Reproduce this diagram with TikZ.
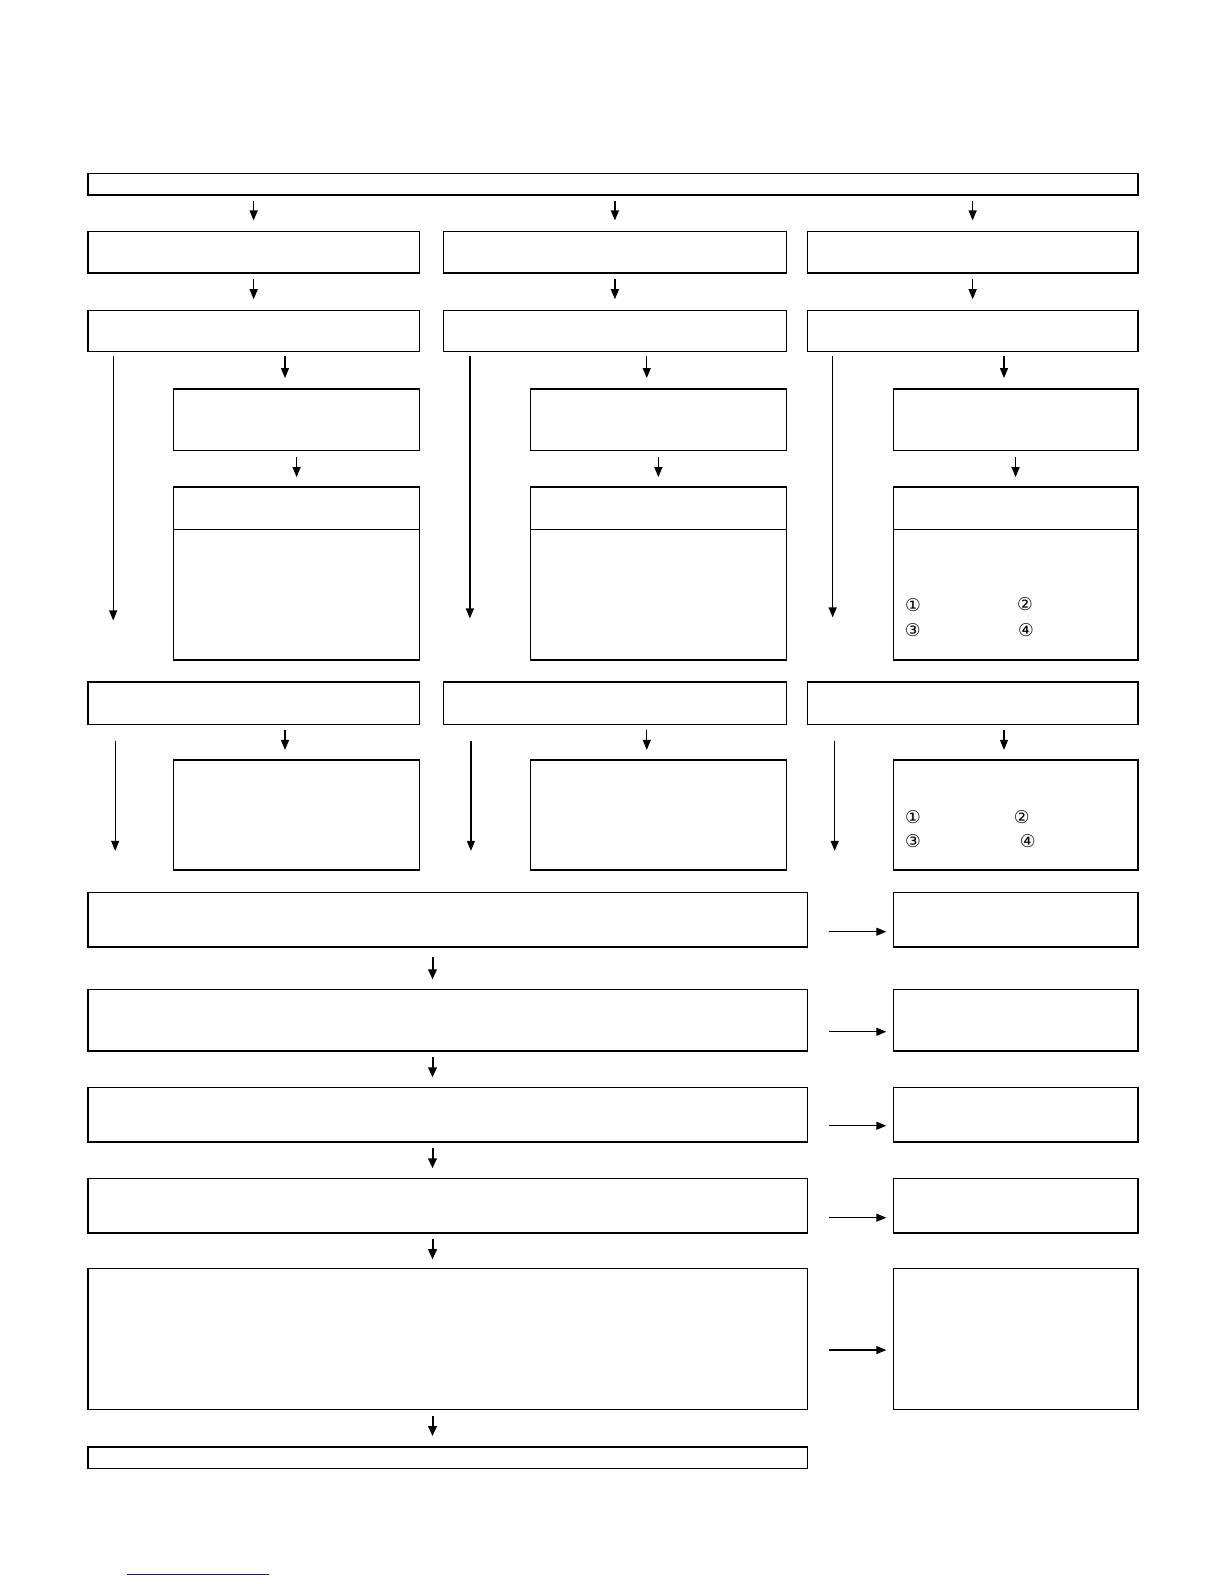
\documentclass[tikz,border=0pt]{standalone}
\usepackage{fontspec}
\newfontfamily\symfont{DejaVu Sans}
\usetikzlibrary{arrows.meta}
\definecolor{navyline}{RGB}{20,20,140}
\begin{document}
\begin{tikzpicture}[x=0.50525pt,y=-0.50525pt,
  box/.style={draw, line width=0.68pt, inner sep=0pt, outer sep=0pt},
  arr/.style={line width=0.6pt, -{Triangle[length=5pt,width=4pt]}},
  arrb/.style={line width=1pt, -{Triangle[length=5pt,width=4.3pt]}},
  num/.style={font=\symfont\fontsize{8.8}{9}\selectfont, inner sep=0pt}]
\useasboundingbox (0,0) rectangle (1211.3,1567.5);
\newcommand\mkbox[5]{\node[box, minimum width={(#4-#2)*0.50525pt}, minimum height={(#5-#3)*0.50525pt}] (#1) at ({(#2+#4)/2},{(#3+#5)/2}) {};}
% top
\mkbox{T}{87}{172}{1126}{193}
% row 1, 2
\mkbox{A1}{87}{229}{415}{270}
\mkbox{B1}{439}{229}{778}{270}
\mkbox{C1}{799}{229}{1126}{270}
\mkbox{A2}{87}{307}{415}{348}
\mkbox{B2}{439}{307}{778}{348}
\mkbox{C2}{799}{307}{1126}{348}
% row 3, 4
\mkbox{A3}{172}{385}{415}{446}
\mkbox{B3}{525}{385}{778}{446}
\mkbox{C3}{884}{385}{1126}{446}
\mkbox{A4}{172}{482}{415}{653}
\mkbox{B4}{525}{482}{778}{653}
\mkbox{C4}{884}{482}{1126}{653}
\foreach \b in {A4,B4,C4}{\draw[line width=0.68pt] (\b.west |- 0,524) -- (\b.east |- 0,524);}
% row 5, 6
\mkbox{A5}{87}{675}{415}{717}
\mkbox{B5}{439}{675}{778}{717}
\mkbox{C5}{799}{675}{1126}{717}
\mkbox{A6}{172}{752}{415}{861}
\mkbox{B6}{525}{752}{778}{861}
\mkbox{C6}{884}{752}{1126}{861}
% wide boxes
\mkbox{W1}{87}{883}{799}{937}
\mkbox{W2}{87}{979}{799}{1040}
\mkbox{W3}{87}{1076}{799}{1130}
\mkbox{W4}{87}{1166}{799}{1220}
\mkbox{W5}{87}{1255}{799}{1395}
\mkbox{W6}{87}{1432}{799}{1453}
\mkbox{S1}{884}{883}{1126}{937}
\mkbox{S2}{884}{979}{1126}{1040}
\mkbox{S3}{884}{1076}{1126}{1130}
\mkbox{S4}{884}{1166}{1126}{1220}
\mkbox{S5}{884}{1255}{1126}{1395}
% circled numbers
\node[num] (c41) at (903.6,599.2) {①};
\node[num] (c42) at (1014.4,598.2) {②};
\node[num] (c43) at (903.2,624) {③};
\node[num] (c44) at (1015.3,623.5) {④};
\node[num] (c61) at (903.5,809) {①};
\node[num] (c62) at (1011,809) {②};
\node[num] (c63) at (903.5,832.5) {③};
\node[num] (c64) at (1017,832.5) {④};
% arrows top -> row1 -> row2 -> row3 -> row4, row5 -> row6
\foreach \c in {A,B,C}{
  \draw[arr, shorten <=3pt, shorten >=5.5pt] (T.south -| \c1.north) -- (\c1.north);
  \draw[arr, shorten <=3pt, shorten >=5.5pt] (\c1.south) -- (\c2.north -| \c1.south);
  \coordinate (\c3in) at ([xshift=-5.8pt]\c3.north);
  \draw[arr, shorten <=2pt, shorten >=5.5pt] (\c2.south -| \c3in) -- (\c3in);
  \draw[arr, shorten <=3pt, shorten >=5pt] (\c3.south) -- (\c4.north);
  \coordinate (\c6in) at ([xshift=-5.8pt]\c6.north);
  \draw[arr, shorten <=2.5pt, shorten >=5pt] (\c5.south -| \c6in) -- (\c6in);
}
% long bypass arrows
\coordinate (lA) at (112,614);
\coordinate (lB) at (465,612);
\coordinate (lC) at (824,611);
\coordinate (mA) at (114,842);
\coordinate (mB) at (466,842);
\coordinate (mC) at (826,842);
\foreach \c in {A,B,C}{
  \draw[arr, shorten <=2pt] (\c2.south -| l\c) -- (l\c);
  \draw[arr, shorten <=8pt] (\c5.south -| m\c) -- (m\c);
}
% wide column arrows
\coordinate (wx) at (428,0);
\draw[arrb, shorten <=5pt, shorten >=5pt] (W1.south -| wx) -- (W2.north -| wx);
\draw[arrb, shorten <=3pt, shorten >=5pt] (W2.south -| wx) -- (W3.north -| wx);
\draw[arrb, shorten <=3pt, shorten >=5pt] (W3.south -| wx) -- (W4.north -| wx);
\draw[arrb, shorten <=3pt, shorten >=4.5pt] (W4.south -| wx) -- (W5.north -| wx);
\draw[arrb, shorten <=3pt, shorten >=5.5pt] (W5.south -| wx) -- (W6.north -| wx);
% side arrows
\draw[arr, shorten <=11pt, shorten >=3.5pt] (W1.east |- 0,922) -- (S1.west |- 0,922);
\draw[arr, shorten <=11pt, shorten >=3.5pt] (W2.east |- 0,1021) -- (S2.west |- 0,1021);
\draw[arr, shorten <=11pt, shorten >=3.5pt] (W3.east |- 0,1114) -- (S3.west |- 0,1114);
\draw[arr, shorten <=11pt, shorten >=3.5pt] (W4.east |- 0,1205) -- (S4.west |- 0,1205);
\draw[arr, shorten <=11pt, shorten >=3.5pt] (W5.east |- 0,1336) -- (S5.west |- 0,1336);
% blue line at bottom
\draw[navyline, line width=0.55pt] (125.4,1558.3) -- (266.2,1558.3);
\end{tikzpicture}
\end{document}
